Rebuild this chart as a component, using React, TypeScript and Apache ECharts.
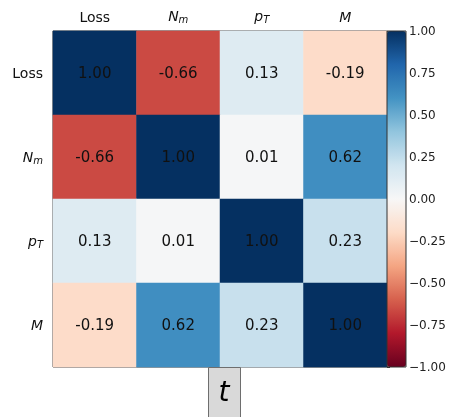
import React, { useEffect, useRef } from "react";
import * as echarts from "echarts";

const variables = ["Loss", "N_m", "p_T", "M"];
const rowLoss = [1.0, -0.66, 0.13, -0.19];
const rowNm = [-0.66, 1.0, 0.01, 0.62];
const rowPt = [0.13, 0.01, 1.0, 0.23];
const rowM = [-0.19, 0.62, 0.23, 1.0];
const matrix = [rowLoss, rowNm, rowPt, rowM];
const colorbarTicks = [-1, -0.75, -0.5, -0.25, 0, 0.25, 0.5, 0.75, 1];
const boxLabel = "t";

const RdBu = [
  "#67001f", "#b2182b", "#d6604d", "#f4a582", "#fddbc7", "#f7f7f7",
  "#d1e5f0", "#92c5de", "#4393c3", "#2166ac", "#053061",
];

const labelFmt = (v: string) => {
  if (v === "N_m") return "{it|N}{sub|m}";
  if (v === "p_T") return "{it|p}{sub|T}";
  if (v === "M") return "{it|M}";
  return v;
};
const rich = {
  it: { fontStyle: "italic", fontSize: 14, fontFamily: "DejaVu Sans", color: "#111" },
  sub: { fontStyle: "italic", fontSize: 10, fontFamily: "DejaVu Sans", color: "#111", verticalAlign: "bottom", padding: [6, 0, 0, 0] },
};

export default function App() {
  const ref = useRef<HTMLDivElement>(null);
  useEffect(() => {
    if (!ref.current) return;
    const chart = echarts.init(ref.current, undefined, { renderer: "svg" });
    const data: [number, number, number][] = [];
    matrix.forEach((row, r) => row.forEach((v, c) => data.push([c, r, v])));
    chart.setOption({
      animation: false,
      textStyle: { fontFamily: "DejaVu Sans" },
      grid: [
        { left: 53, top: 31, width: 334, height: 336, show: true, borderColor: "#333", borderWidth: 1, backgroundColor: "transparent" },
        { left: 387, top: 31, width: 19, height: 336, show: true, borderColor: "#333", borderWidth: 1, backgroundColor: "transparent", z: 10 },
      ],
      xAxis: [
        {
          type: "category", data: variables, position: "top", gridIndex: 0,
          axisLine: { show: false }, axisTick: { show: false }, splitLine: { show: false },
          axisLabel: { interval: 0, formatter: labelFmt, rich, fontSize: 14, color: "#111", margin: 7 },
        },
        { type: "value", gridIndex: 1, show: false, min: 0, max: 1 },
      ],
      yAxis: [
        {
          type: "category", data: variables, inverse: true, gridIndex: 0,
          axisLine: { show: false }, axisTick: { show: false }, splitLine: { show: false },
          axisLabel: { interval: 0, formatter: labelFmt, rich, fontSize: 14, color: "#111", margin: 10 },
        },
        {
          type: "value", gridIndex: 1, position: "right", min: -1, max: 1, interval: 0.25,
          axisLine: { show: false }, splitLine: { show: false },
          axisTick: { show: true, length: 3, lineStyle: { color: "#333" } },
          axisLabel: {
            fontSize: 12, color: "#222", margin: 3,
            formatter: (v: number) => (v < 0 ? "\u2212" + Math.abs(v).toFixed(2) : v.toFixed(2)),
          },
        },
      ],
      visualMap: {
        type: "continuous", min: -1, max: 1, seriesIndex: 0, dimension: 2,
        inRange: { color: RdBu }, calculable: false, show: true,
        orient: "vertical", left: 387, top: 31, itemWidth: 19, itemHeight: 336,
        padding: 0, text: ["", ""], textGap: 0, showLabel: false, hoverLink: false,
      },
      series: [
        {
          type: "heatmap", xAxisIndex: 0, yAxisIndex: 0, data,
          label: {
            show: true, fontSize: 15, color: "#111",
            formatter: (p: any) => (p.value[2] as number).toFixed(2),
          },
        },
      ],
      graphic: [
        {
          type: "rect", left: 208, top: 367, z: 20,
          shape: { width: 32, height: 56 },
          style: { fill: "#d9d9d9", stroke: "#6e6e6e", lineWidth: 1 },
        },
        {
          type: "text", x: 224, y: 391, z: 21,
          style: { text: boxLabel, fontSize: 28, fontStyle: "italic", fontFamily: "DejaVu Sans", fill: "#000", align: "center", verticalAlign: "middle" },
        },
      ],
    });
    return () => chart.dispose();
  }, []);
  return <div ref={ref} style={{ position: "fixed", left: 0, top: 0, width: 449, height: 417 }} />;
}
